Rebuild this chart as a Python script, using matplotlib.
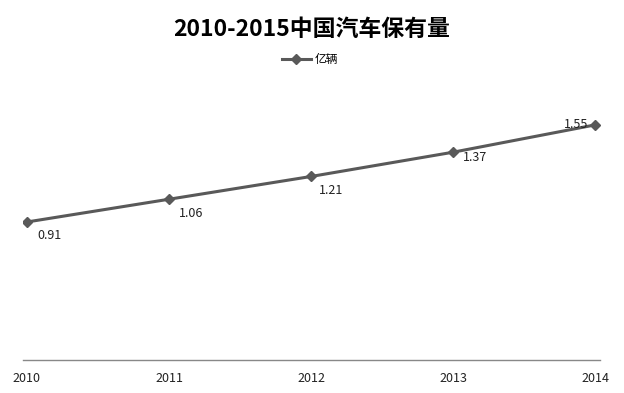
import matplotlib.pyplot as plt

plt.rcParams['font.family'] = ['Noto Sans CJK SC', 'DejaVu Sans']

years = ['2010', '2011', '2012', '2013', '2014']
values = [0.91, 1.06, 1.21, 1.37, 1.55]
# 数据标签偏移(像素)
offsets = [(10, -14), (10, -14), (8, -14), (10, -5), (-31, 0)]

fig = plt.figure(figsize=(6.24, 3.93), dpi=100)
ax = fig.add_axes([23 / 624, 33 / 393, 577 / 624, 273 / 393])

x = list(range(len(years)))
ax.plot(x, values, color='#595959', linewidth=2.2, marker='D', markersize=5,
        label='亿辆')

for xi, v, (dx, dy) in zip(x, values, offsets):
    ax.annotate(f'{v:.2f}', (xi, v), xytext=(dx, dy), textcoords='offset pixels',
                fontsize=9, color='#222222', va='center', ha='left')

ax.set_xlim(-0.028, 4.035)
ax.set_ylim(0, 1.8)
ax.set_xticks(x)
ax.set_xticklabels(years, fontsize=9, color='#222222')
ax.set_yticks([])
ax.tick_params(axis='x', length=0, pad=9)
for s in ['top', 'right', 'left']:
    ax.spines[s].set_visible(False)
ax.spines['bottom'].set_color('#888888')
ax.spines['bottom'].set_linewidth(1)

fig.text(0.5, 1 - 29 / 393, '2010-2015中国汽车保有量',
         ha='center', va='center', fontsize=16.5, fontweight='bold')
leg = ax.legend(loc='center', bbox_to_anchor=(310 / 624, 1 - 60 / 393),
                bbox_transform=fig.transFigure, frameon=False, fontsize=8.5,
                handlelength=2.4, handletextpad=0.3)

fig.savefig('out.png', dpi=100)
